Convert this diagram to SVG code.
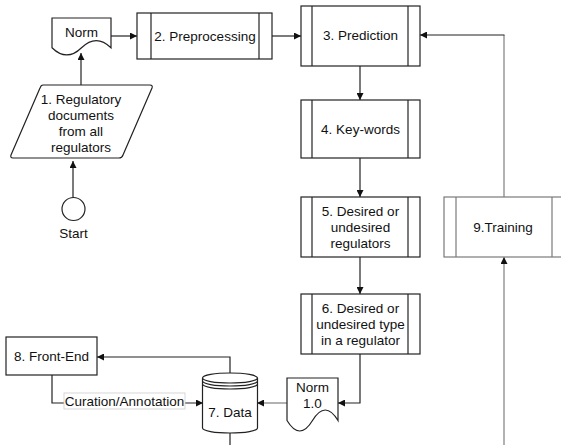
<svg xmlns="http://www.w3.org/2000/svg" width="561" height="445" viewBox="0 0 561 445">
<defs>
<marker id="ah" viewBox="0 0 10 10" refX="10" refY="5" markerWidth="7" markerHeight="7" markerUnits="userSpaceOnUse" orient="auto">
<path d="M0,0 L10,5 L0,10 Z" fill="#111"/>
</marker>
<marker id="ahg" viewBox="0 0 10 10" refX="10" refY="5" markerWidth="7" markerHeight="7" markerUnits="userSpaceOnUse" orient="auto">
<path d="M0,0 L10,5 L0,10 Z" fill="#111"/>
</marker>
</defs>
<style>
.s{fill:#fff;stroke:#222;stroke-width:1.2}
.g{fill:#fff;stroke:#7a7a7a;stroke-width:1.2}
.l{fill:none;stroke:#222;stroke-width:1.2}
.lg{fill:none;stroke:#999;stroke-width:1.5}
.c{fill:none;stroke:#222;stroke-width:1.2}
text{font-family:"Liberation Sans",Arial,sans-serif;font-size:13.5px;fill:#111;text-anchor:middle}
</style>
<rect width="561" height="445" fill="#fff"/>

<g id="connectors">
<line class="c" x1="73" y1="197.5" x2="73" y2="161" marker-end="url(#ah)"/>
<line class="c" x1="81" y1="85" x2="81" y2="53" marker-end="url(#ah)"/>
<line class="c" x1="111" y1="36" x2="137" y2="36" marker-end="url(#ah)"/>
<line class="c" x1="272" y1="36" x2="301" y2="36" marker-end="url(#ah)"/>
<line class="c" x1="360" y1="66" x2="360" y2="100" marker-end="url(#ah)"/>
<line class="c" x1="360" y1="158" x2="360" y2="197" marker-end="url(#ah)"/>
<line class="c" x1="360" y1="257" x2="360" y2="294" marker-end="url(#ah)"/>
<polyline class="c" points="360,354 360,403 338,403" marker-end="url(#ah)"/>
<line class="lg" x1="287" y1="403" x2="257" y2="403" marker-end="url(#ahg)"/>
<polyline class="c" points="230,373 230,357 97,357" marker-end="url(#ah)"/>
<polyline class="c" points="52,375 52,403 203,403" marker-end="url(#ah)"/>
<line class="c" x1="230" y1="433" x2="230" y2="445"/>
<line class="lg" x1="504" y1="445" x2="504" y2="257" marker-end="url(#ahg)"/>
<line class="lg" x1="504" y1="197" x2="504" y2="35"/>
<line class="c" x1="504.5" y1="35" x2="420" y2="35" marker-end="url(#ah)"/>
<rect x="64" y="393" width="121" height="16" fill="#fff" stroke="#ccc" stroke-width="0.8"/>
<text x="124.5" y="405.5">Curation/Annotation</text>
</g>

<g id="start">
<circle class="s" cx="73.5" cy="209" r="11.5"/>
<text x="73.5" y="238">Start</text>
</g>

<g id="n1">
<path class="s" d="M43,85 L150,85 Q153,85 152,88 L123,155 Q122,158 119,158 L13,158 Q10,158 11,155 L40,88 Q41,85 43,85 Z"/>
<text x="81" y="104">1. Regulatory</text>
<text x="81" y="120">documents</text>
<text x="81" y="136">from all</text>
<text x="81" y="152">regulators</text>
</g>

<g id="norm">
<path class="s" d="M52,18 L111,18 L111,47.75 Q96.25,33.3 81.5,47.75 Q66.75,62.2 52,47.75 Z"/>
<text x="81.5" y="37">Norm</text>
</g>

<g id="n2">
<rect class="s" x="137" y="13" width="135" height="46"/>
<line class="l" x1="151" y1="13" x2="151" y2="59"/>
<line class="l" x1="259" y1="13" x2="259" y2="59"/>
<text x="205" y="40.5">2. Preprocessing</text>
</g>

<g id="n3">
<rect class="s" x="301" y="6" width="119" height="60"/>
<line class="l" x1="312" y1="6" x2="312" y2="66"/>
<line class="l" x1="408" y1="6" x2="408" y2="66"/>
<text x="360.5" y="40">3. Prediction</text>
</g>

<g id="n4">
<rect class="s" x="301" y="100" width="119" height="58"/>
<line class="l" x1="312" y1="100" x2="312" y2="158"/>
<line class="l" x1="408" y1="100" x2="408" y2="158"/>
<text x="360.5" y="134">4. Key-words</text>
</g>

<g id="n5">
<rect class="s" x="301" y="197" width="119" height="60"/>
<line class="l" x1="312" y1="197" x2="312" y2="257"/>
<line class="l" x1="408" y1="197" x2="408" y2="257"/>
<text x="360.5" y="216">5. Desired or</text>
<text x="360.5" y="232">undesired</text>
<text x="360.5" y="248">regulators</text>
</g>

<g id="n6">
<rect class="s" x="301" y="294" width="119" height="60"/>
<line class="l" x1="312" y1="294" x2="312" y2="354"/>
<line class="l" x1="408" y1="294" x2="408" y2="354"/>
<text x="360.5" y="313">6. Desired or</text>
<text x="360.5" y="329">undesired type</text>
<text x="360.5" y="345">in a regulator</text>
</g>

<g id="n7">
<path class="s" d="M202.5,378 A27.5,5 0 0 1 257.5,378 L257.5,428 A27.5,5 0 0 1 202.5,428 Z"/>
<path class="l" d="M202.5,378 A27.5,5 0 0 0 257.5,378"/>
<path class="l" d="M202.5,381 A27.5,5 0 0 0 257.5,381"/>
<path class="l" d="M202.5,384 A27.5,5 0 0 0 257.5,384"/>
<text x="230" y="417">7. Data</text>
</g>

<g id="norm10">
<path class="s" d="M287,378 L338,378 L338,420.5 Q325.25,399.5 312.5,420.5 Q299.75,441.5 287,420.5 Z"/>
<text x="312.5" y="392">Norm</text>
<text x="312.5" y="408">1.0</text>
</g>

<g id="n8">
<rect class="s" x="6" y="337" width="91" height="38"/>
<text x="51.5" y="360.5">8. Front-End</text>
</g>

<g id="n9">
<rect class="g" x="444" y="197" width="130" height="60"/>
<line class="g" x1="456" y1="197" x2="456" y2="257"/>
<line class="g" x1="552" y1="197" x2="552" y2="257"/>
<text x="503" y="231.5">9.Training</text>
</g>
</svg>
